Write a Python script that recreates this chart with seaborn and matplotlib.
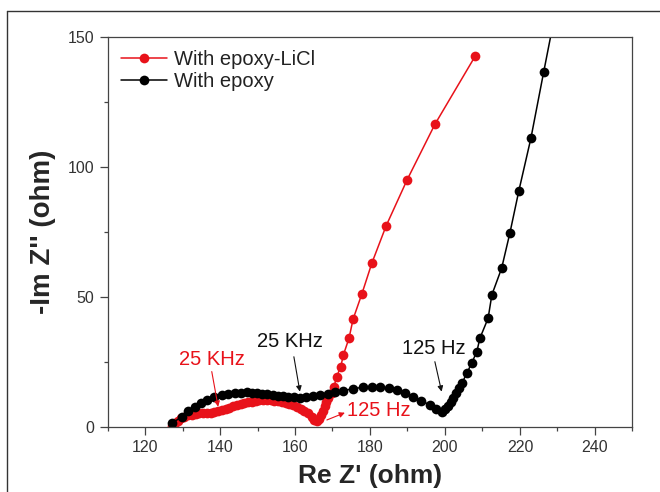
import matplotlib
matplotlib.use("Agg")
import matplotlib.pyplot as plt
from matplotlib.ticker import MultipleLocator
from matplotlib.lines import Line2D
import seaborn as sns
import pandas as pd

# impedancia - com epoxy-LiCl (vermelho)
re_licl = [127.3, 128.0, 128.8, 129.6, 130.5, 131.5, 132.5, 133.5, 134.5, 135.5,
           136.5, 137.5, 138.5, 139.5, 140.5, 141.5, 142.5, 143.5, 144.5, 145.5,
           146.5, 147.5, 148.5, 149.5, 150.5, 151.5, 152.5, 153.5, 154.5, 155.5,
           156.5, 157.5, 158.5, 159.5, 160.5, 161.5, 162.5, 163.5, 164.4, 165.2,
           165.8, 166.4, 166.9, 167.4, 167.9, 168.4, 168.9, 169.8, 170.4, 171.1,
           172.2, 172.9, 174.4, 175.5, 177.8, 180.5, 184.3, 189.9, 197.3, 208.0]
im_licl = [0.5, 1.5, 2.5, 3.3, 4.0, 4.5, 4.8, 5.0, 5.2, 5.3,
           5.4, 5.5, 5.7, 6.0, 6.4, 6.9, 7.4, 7.9, 8.4, 8.8,
           9.2, 9.5, 9.8, 10.0, 10.2, 10.3, 10.3, 10.2, 10.1, 9.9,
           9.6, 9.3, 8.9, 8.4, 7.8, 7.1, 6.2, 5.2, 4.0, 2.8,
           2.2, 3.0, 4.6, 6.3, 8.0, 9.6, 11.2, 13.0, 15.5, 19.3,
           23.2, 27.7, 34.1, 41.5, 51.0, 63.0, 77.3, 95.0, 116.3, 142.4]

# com epoxy (preto)
re_epoxy = [127.3, 129.8, 131.5, 133.3, 134.9, 136.5, 138.4, 140.4, 142.2, 144.0,
            145.6, 147.1, 148.5, 149.8, 151.2, 152.6, 154.0, 155.4, 156.8, 158.2,
            159.7, 161.3, 162.9, 164.8, 166.7, 168.7, 170.8, 172.9, 175.5, 178.2,
            180.5, 182.7, 185.0, 187.1, 189.3, 191.5, 193.7, 195.9, 197.6, 199.1,
            200.0, 200.8, 201.5, 202.2, 202.9, 203.7, 204.5, 205.8, 207.1, 208.5,
            209.3, 211.5, 212.5, 215.1, 217.3, 219.7, 222.9, 226.3, 230.0]
im_epoxy = [1.5, 4.0, 6.0, 7.8, 9.2, 10.4, 11.5, 12.3, 12.8, 13.0,
            13.2, 13.3, 13.2, 13.0, 12.8, 12.6, 12.3, 12.0, 11.8, 11.6,
            11.4, 11.3, 11.5, 11.9, 12.3, 12.8, 13.4, 14.0, 14.7, 15.3,
            15.4, 15.3, 14.8, 14.2, 13.1, 11.7, 10.1, 8.5, 7.0, 5.9,
            6.8, 8.0, 9.6, 11.3, 13.0, 15.0, 16.8, 20.6, 24.5, 29.0,
            34.1, 41.8, 50.8, 61.0, 74.5, 90.8, 110.9, 136.3, 163.5]

labels = ["With epoxy-LiCl", "With epoxy"]
colors = ["#e8121a", "#000000"]

df = pd.concat([
    pd.DataFrame({"re": re_licl, "im": im_licl, "amostra": labels[0]}),
    pd.DataFrame({"re": re_epoxy, "im": im_epoxy, "amostra": labels[1]}),
], ignore_index=True)

sns.set_style("ticks")
plt.rcParams["font.family"] = ["Liberation Sans", "DejaVu Sans"]

fig = plt.figure(figsize=(6.6, 4.92), dpi=100)
ax = fig.add_axes([0.1629, 0.1321, 0.7954, 0.7933])

sns.lineplot(data=df, x="re", y="im", hue="amostra", palette=dict(zip(labels, colors)),
             sort=False, estimator=None, marker="o", markersize=7,
             markeredgewidth=0, linewidth=1.1, ax=ax)

ax.set_xlim(110, 250)
ax.set_ylim(0, 150)
ax.xaxis.set_major_locator(MultipleLocator(20))
ax.xaxis.set_minor_locator(MultipleLocator(10))
ax.yaxis.set_major_locator(MultipleLocator(50))
ax.yaxis.set_minor_locator(MultipleLocator(25))
ax.set_xticks([120, 140, 160, 180, 200, 220, 240])

for s in ax.spines.values():
    s.set_color("#444444")
    s.set_linewidth(0.9)
ax.tick_params(which="major", direction="out", length=6, width=0.9, color="#444444",
               labelsize=11.5, labelcolor="#333333", top=False, right=False)
ax.tick_params(which="minor", direction="out", length=3, width=0.9, color="#444444",
               top=False, right=False)

ax.set_xlabel("Re Z' (ohm)", fontsize=19, fontweight="bold")
ax.set_ylabel("-Im Z'' (ohm)", fontsize=20, fontweight="bold")
ax.xaxis.set_label_coords(0.5, -0.096)
ax.yaxis.set_label_coords(-0.098, 0.5)

leg = ax.legend(loc="upper left", frameon=False, fontsize=14.5, handlelength=2.3,
                handletextpad=0.35, borderaxespad=0.25, labelspacing=0.15)
for t in leg.get_texts():
    t.set_color("#222222")

# anotacoes de frequencia
arr = dict(arrowstyle="-|>", lw=0.8, mutation_scale=8, shrinkA=0, shrinkB=0)
ax.text(137.8, 25.8, "25 KHz", color="#e8121a", fontsize=14.5, ha="center", va="center")
ax.annotate("", xy=(139.5, 7.8), xytext=(137.8, 21.3), arrowprops=dict(arr, color="#e8121a"))
ax.text(158.7, 32.8, "25 KHz", color="#111111", fontsize=14.5, ha="center", va="center")
ax.annotate("", xy=(161.3, 13.6), xytext=(159.7, 27.0), arrowprops=dict(arr, color="#111111"))
ax.text(196.9, 30.3, "125 Hz", color="#111111", fontsize=14.5, ha="center", va="center")
ax.annotate("", xy=(199.1, 13.6), xytext=(197.3, 25.1), arrowprops=dict(arr, color="#111111"))
ax.text(182.4, 6.3, "125 Hz", color="#e8121a", fontsize=14.5, ha="center", va="center")
ax.annotate("", xy=(173.3, 5.5), xytext=(168.5, 2.7), arrowprops=dict(arr, color="#e8121a"))

# moldura externa
fig.add_artist(Line2D([7 / 660, 1.0], [1 - 11 / 492, 1 - 11 / 492], color="#333333", lw=1))
fig.add_artist(Line2D([7 / 660, 7 / 660], [0, 1 - 11 / 492], color="#333333", lw=1))

fig.savefig("out.png", dpi=100)
